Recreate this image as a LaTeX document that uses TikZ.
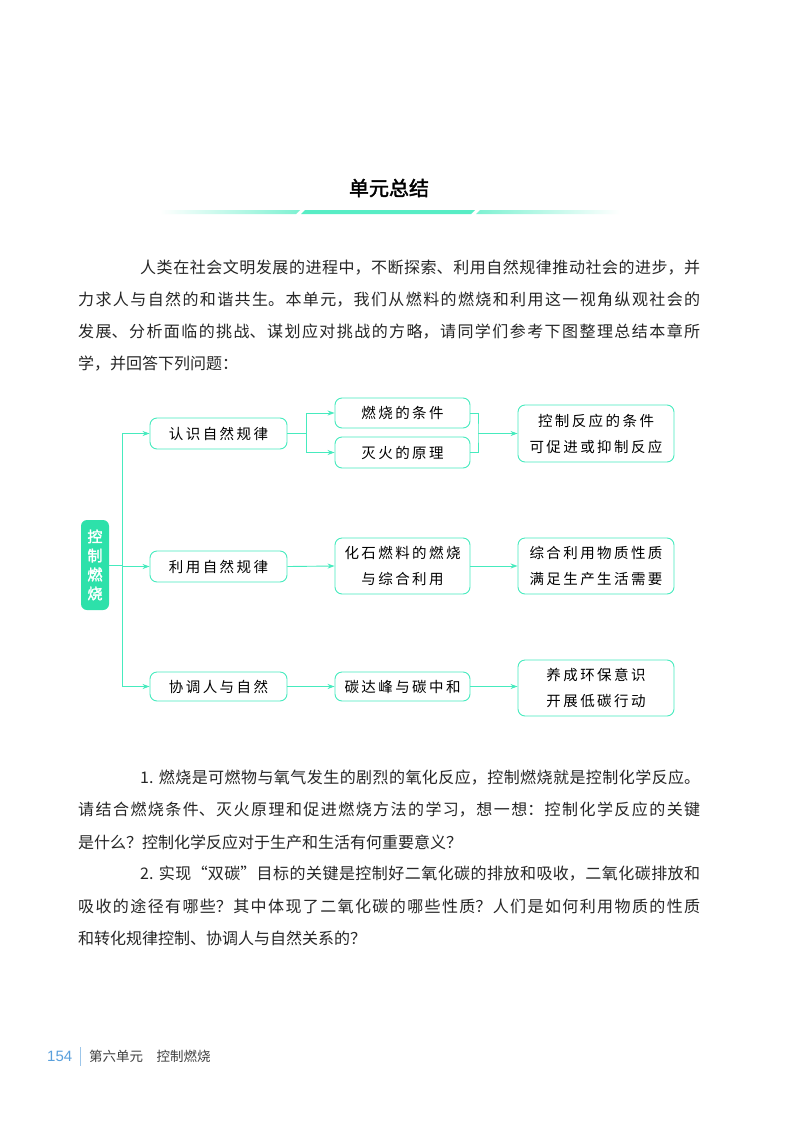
\documentclass[tikz,border=0pt]{standalone}
\usepackage{fontspec}
\setmainfont{Liberation Serif}
\newfontfamily\cjk{Noto Sans CJK SC}
\newfontfamily\cjkb{Noto Sans CJK SC}[FakeBold=2]
\usetikzlibrary{arrows.meta}
\definecolor{gline}{RGB}{70,235,190}
\definecolor{gfill}{RGB}{45,225,170}
\definecolor{pnum}{RGB}{90,160,220}
\newcommand{\jline}[2]{\parbox{#1}{\noindent\XeTeXlinebreaklocale "zh"\XeTeXlinebreakskip=0pt plus 4pt minus 0.3pt\relax\parfillskip=0pt\relax\emergencystretch=20pt\hyphenpenalty=10000 #2\par}}
\tikzset{
  box/.style={draw=gline,line width=0.9pt,rounded corners=7pt,align=center,font=\cjk\fontsize{14.5}{26}\selectfont,inner sep=0pt},
  link/.style={draw=gline,line width=0.9pt},
  arr/.style={link,-{Stealth[length=7pt,width=5pt]}},
  txt/.style={anchor=west,inner sep=0pt,font=\cjk\fontsize{16}{20}\selectfont,text=black!85}
}
\begin{document}
\begin{tikzpicture}[x=1pt,y=-1pt]
\useasboundingbox (0,0) rectangle (800,1132);
\fill[white] (0,0) rectangle (800,1132);
% title
\node[font=\cjkb\fontsize{20}{24}\selectfont] (title) at (389,188) {单元总结};
\shade[left color=white,right color=gline!70] (160,210) -- (300,210) -- (296,214) -- (160,214) -- cycle;
\fill[gline!90] (305,210) -- (475,210) -- (471,214) -- (301,214) -- cycle;
\shade[left color=gline!70,right color=white] (480,210) -- (620,210) -- (620,214) -- (476,214) -- cycle;
% intro
\node[txt] (p1) at (140,268) {\jline{560pt}{人类在社会文明发展的进程中，不断探索、利用自然规律推动社会的进步，并}};
\node[txt] (p2) at (78,300) {\jline{622pt}{力求人与自然的和谐共生。本单元，我们从燃料的燃烧和利用这一视角纵观社会的}};
\node[txt] (p3) at (78,332) {\jline{622pt}{发展、分析面临的挑战、谋划应对挑战的方略，请同学们参考下图整理总结本章所}};
\node[txt] (p4) at (78,364) {学，并回答下列问题：};
% diagram
\node[fill=gfill,rounded corners=6pt,minimum width=28pt,minimum height=90pt,inner sep=0pt,text=white,align=center,font=\cjkb\fontsize{15}{19}\selectfont] (root) at (95,565) {控\\制\\燃\\烧};
\node[box,minimum width=137pt,minimum height=31pt] (a1) at (218.5,433.5) {认\,识\,自\,然\,规\,律};
\node[box,minimum width=137pt,minimum height=31pt] (a2) at (218.5,566.5) {利\,用\,自\,然\,规\,律};
\node[box,minimum width=137pt,minimum height=29pt] (a3) at (218.5,686.5) {协\,调\,人\,与\,自\,然};
\node[box,minimum width=135pt,minimum height=30pt] (b1) at (402.5,413) {燃\,烧\,的\,条\,件};
\node[box,minimum width=135pt,minimum height=31pt] (b2) at (402.5,452.5) {灭\,火\,的\,原\,理};
\node[box,minimum width=135pt,minimum height=56pt] (b3) at (402.5,566) {化\,石\,燃\,料\,的\,燃\,烧\\与\,综\,合\,利\,用};
\node[box,minimum width=135pt,minimum height=29pt] (b4) at (402.5,686.5) {碳\,达\,峰\,与\,碳\,中\,和};
\node[box,minimum width=156pt,minimum height=57pt] (c1) at (596,433.5) {控\,制\,反\,应\,的\,条\,件\\可\,促\,进\,或\,抑\,制\,反\,应};
\node[box,minimum width=156pt,minimum height=56pt] (c2) at (596,566) {综\,合\,利\,用\,物\,质\,性\,质\\满\,足\,生\,产\,生\,活\,需\,要};
\node[box,minimum width=156pt,minimum height=56pt] (c3) at (596,688) {养\,成\,环\,保\,意\,识\\开\,展\,低\,碳\,行\,动};
\coordinate (t1) at (122,433.5);
\coordinate (t3) at (122,686.5);
\draw[link] (root.east) -- (122,565);
\draw[link] (t1) -- (t3);
\draw[arr] (t1) -- (a1.west);
\draw[arr] (122,566.5) -- (a2.west);
\draw[arr] (t3) -- (a3.west);
\coordinate (s) at (306,433.5);
\draw[link] (a1.east) -- (s);
\draw[arr] (s) |- (b1.west);
\draw[arr] (s) |- (b2.west);
\coordinate (m) at (478,433.5);
\draw[link] (b1.east) -| (m) |- (b2.east);
\draw[arr] (m) -- (c1.west);
\draw[arr] (a2.east) -- (b3.west);
\draw[arr] (b3.east) -- (c2.west);
\draw[arr] (a3.east) -- (b4.west);
\draw[arr] (b4.east) -- (c3.west |- b4.east);
% questions
\node[txt] (q1) at (140,778) {\jline{560pt}{1. 燃烧是可燃物与氧气发生的剧烈的氧化反应，控制燃烧就是控制化学反应。}};
\node[txt] (q2) at (78,810) {\jline{622pt}{请结合燃烧条件、灭火原理和促进燃烧方法的学习，想一想：控制化学反应的关键}};
\node[txt] (q3) at (78,842) {是什么？控制化学反应对于生产和生活有何重要意义？};
\node[txt] (q4) at (140,874) {\jline{560pt}{2. 实现“双碳”目标的关键是控制好二氧化碳的排放和吸收，二氧化碳排放和}};
\node[txt] (q5) at (78,906) {\jline{622pt}{吸收的途径有哪些？其中体现了二氧化碳的哪些性质？人们是如何利用物质的性质}};
\node[txt] (q6) at (78,938) {和转化规律控制、协调人与自然关系的？};
% footer
\node[anchor=west,inner sep=0pt,text=pnum,font=\fontspec{Liberation Sans}\fontsize{15}{18}\selectfont] (pg) at (47,1056) {154};
\draw[pnum!60,line width=0.6pt] (80,1047) -- (80,1066);
\node[anchor=west,inner sep=0pt,text=black!75,font=\cjk\fontsize{13.5}{16}\selectfont] (ft) at (89,1056) {第六单元\quad 控制燃烧};
\end{tikzpicture}
\end{document}
